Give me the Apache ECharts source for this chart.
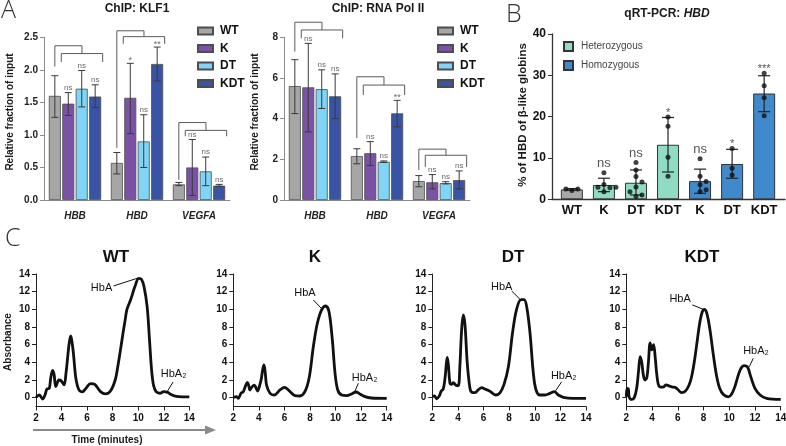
<!DOCTYPE html>
<html><head><meta charset="utf-8">
<script src="https://cdn.jsdelivr.net/npm/echarts@6/dist/echarts.min.js"></script>
<style>html,body{margin:0;padding:0;background:#fff}#c{width:786px;height:446px}</style>
</head><body><div id="c"></div>
<script>
const FONT = '"Liberation Sans", Arial, sans-serif';

// ---------- Panel A data ----------
const geneCats = ['HBB', 'HBD', 'VEGFA'];
const genotypes = ['WT', 'K', 'DT', 'KDT'];

const klf1WT  = [1.60, 0.57, 0.24];
const klf1K   = [1.48, 1.57, 0.50];
const klf1DT  = [1.71, 0.90, 0.44];
const klf1KDT = [1.59, 2.09, 0.22];
const klf1ErrWT  = [[1.27, 1.91], [0.40, 0.73], [0.22, 0.27]];
const klf1ErrK   = [[1.30, 1.65], [1.02, 2.10], [0.07, 0.93]];
const klf1ErrDT  = [[1.43, 1.99], [0.50, 1.31], [0.22, 0.66]];
const klf1ErrKDT = [[1.42, 1.77], [1.83, 2.35], [0.21, 0.24]];
const klf1SigK   = ['ns', '*', 'ns'];
const klf1SigDT  = ['ns', 'ns', 'ns'];
const klf1SigKDT = ['ns', '**', 'ns'];
// [top, second level, WT end, group ends]
const klf1Brackets = [[2.37, 2.25, 2.05, 2.12], [2.60, 2.51, 0.80, 2.40], [1.19, 1.07, 0.31, 0.98]];

const pol2WT  = [5.60, 2.16, 0.93];
const pol2K   = [5.54, 2.30, 0.87];
const pol2DT  = [5.45, 1.88, 0.83];
const pol2KDT = [5.10, 4.26, 0.98];
const pol2ErrWT  = [[4.25, 6.90], [1.78, 2.52], [0.65, 1.20]];
const pol2ErrK   = [[3.35, 7.70], [1.70, 2.87], [0.55, 1.25]];
const pol2ErrDT  = [[4.50, 6.40], [1.85, 1.92], [0.79, 0.90]];
const pol2ErrKDT = [[4.00, 6.20], [3.60, 4.90], [0.55, 1.43]];
const pol2SigK   = ['ns', 'ns', 'ns'];
const pol2SigDT  = ['ns', 'ns', 'ns'];
const pol2SigKDT = ['ns', '**', 'ns'];
const pol2Brackets = [[8.74, 8.36, 7.30, 7.95], [6.06, 5.65, 3.05, 5.16], [2.50, 2.20, 1.47, 1.62]];

// ---------- Panel B data ----------
const qCats = ['WT', 'K', 'DT', 'KDT', 'K', 'DT', 'KDT'];
const qWT  = [2.4];
const qHet = [3.47, 4.0, 13.2];
const qHom = [4.4, 8.55, 25.6];
const qErr = [[2.2, 2.6], [1.85, 5.1], [1.05, 7.1], [6.6, 19.8], [1.45, 7.3], [5.1, 12.1], [21.2, 29.9]];
const qSig = ['', 'ns', 'ns', '*', 'ns', '*', '***'];
const qDots = [
  [2.1, 2.5, 2.5],
  [3.6, 2.9, 6.45, 1.8, 2.9, 2.8],
  [8.9, 7.1, 5.5, 4.2, 3.0, 1.85, 1.05, 0.65],
  [19.9, 17.7, 10.2, 5.6],
  [9.8, 5.6, 4.3, 3.5, 2.3, 1.8],
  [12.3, 7.5, 5.9],
  [30.5, 27.5, 24.6, 20.2]
];

// ---------- Panel C data (time, absorbance) ----------
const wtTrace = [[2.0,0.05],[2.26,0.3],[2.52,-0.15],[2.7,0.3],[2.86,0.98],[3.04,1.06],[3.15,2.2],[3.3,3.1],[3.42,2.6],[3.55,1.25],[3.8,2.0],[3.97,1.9],[4.2,1.45],[4.35,2.8],[4.46,4.3],[4.6,6.2],[4.72,7.0],[4.82,6.3],[4.93,5.0],[5.1,2.4],[5.25,1.3],[5.4,0.8],[5.63,0.65],[5.9,1.05],[6.28,1.6],[6.6,1.5],[7.05,0.68],[7.44,0.42],[7.83,0.75],[8.2,2.0],[8.4,3.5],[8.6,5.3],[8.8,7.2],[9.0,9.0],[9.12,10.0],[9.4,11.05],[9.75,12.6],[10.05,13.5],[10.25,13.4],[10.45,12.6],[10.7,10.3],[10.9,6.2],[11.05,3.1],[11.2,1.4],[11.4,0.68],[11.7,0.5],[12.0,0.68],[12.3,0.6],[12.6,0.34],[13.0,0.15],[14.0,0.08]];
const kTrace = [[2.0,0.04],[2.26,0.12],[2.4,-0.07],[2.6,0.5],[2.78,0.68],[2.95,1.3],[3.1,1.74],[3.2,1.4],[3.3,0.87],[3.45,1.2],[3.64,1.43],[3.78,1.1],[3.9,0.75],[4.1,1.6],[4.2,2.2],[4.3,3.2],[4.4,3.7],[4.5,2.8],[4.6,1.43],[4.87,0.5],[5.2,0.3],[5.65,0.87],[6.0,1.17],[6.36,0.8],[6.83,0.23],[7.2,0.19],[7.6,0.68],[7.95,2.38],[8.26,5.77],[8.57,8.4],[8.9,9.92],[9.22,10.38],[9.49,9.7],[9.75,6.5],[9.96,2.75],[10.17,0.87],[10.48,0.3],[10.87,0.23],[11.26,0.42],[11.6,0.64],[11.9,0.42],[12.3,0.11],[12.8,-0.04],[14.0,-0.08]];
const dtTrace = [[2.0,0.15],[2.16,0.2],[2.34,-0.12],[2.55,0.2],[2.7,0.75],[2.86,1.0],[3.0,2.3],[3.1,3.9],[3.17,4.57],[3.25,3.8],[3.38,1.6],[3.5,1.5],[3.64,1.7],[3.85,1.4],[4.03,1.36],[4.15,3.5],[4.29,7.66],[4.42,9.36],[4.55,8.3],[4.73,3.9],[4.94,1.06],[5.1,0.6],[5.33,0.57],[5.6,0.9],[5.85,1.13],[6.1,0.98],[6.5,0.72],[6.95,0.3],[7.28,0.55],[7.6,1.5],[7.94,3.5],[8.27,7.4],[8.58,10.0],[8.93,11.1],[9.16,11.1],[9.37,10.3],[9.63,7.3],[9.89,2.75],[10.1,0.87],[10.4,0.3],[10.8,0.3],[11.19,0.49],[11.53,0.68],[11.84,0.3],[12.23,0.04],[13.0,-0.08],[14.0,-0.08]];
const kdtTrace = [[2.0,0.1],[2.06,1.06],[2.16,1.0],[2.22,0.1],[2.42,-0.2],[2.62,0.0],[2.81,1.1],[2.95,3.0],[3.08,4.64],[3.2,4.0],[3.33,2.5],[3.45,2.0],[3.6,2.3],[3.72,4.0],[3.85,6.2],[3.98,5.4],[4.12,6.0],[4.25,4.5],[4.38,2.5],[4.55,1.3],[4.85,1.2],[5.1,1.44],[5.35,1.3],[5.6,1.2],[5.8,1.17],[6.04,0.87],[6.3,0.57],[6.6,0.75],[6.87,1.4],[7.08,2.4],[7.3,4.2],[7.5,6.3],[7.7,8.4],[7.9,9.7],[8.06,10.0],[8.25,9.6],[8.5,7.7],[8.75,5.0],[9.0,2.6],[9.25,1.1],[9.55,0.35],[9.93,0.1],[10.19,0.42],[10.45,1.3],[10.65,2.3],[10.84,3.1],[11.0,3.5],[11.15,3.62],[11.41,3.5],[11.67,2.38],[12.0,1.06],[12.4,0.3],[12.9,-0.08],[14.0,-0.19]];
const peakNames = ['HbA', 'HbA\u2082'];
// annotation placement: [labelT, labelA, fromT, fromA, toT, toA]
const wtAnno  = [[7.13, 12.42, 8.07, 12.65, 10.0, 13.55], [12.77, 2.68, 12.73, 1.78, 12.3, 0.76]];
const kAnno   = [[7.6, 11.9, 8.26, 11.06, 8.96, 10.0], [12.27, 2.2, 11.78, 1.63, 11.5, 0.68]];
const dtAnno  = [[7.42, 12.57, 8.2, 12.08, 8.9, 11.06], [12.26, 2.46, 12.1, 1.8, 11.63, 0.8]];
const kdtAnno = [[6.18, 11.2, 7.13, 10.5, 7.99, 10.0], [12.08, 5.3, 11.87, 4.46, 11.56, 3.5]];

// ---------- styling ----------
const aColors = ['#a6a6a6', '#7a53a6', '#80d4f6', '#3954a5'];
const BW = 12, AW = BW * 1.12;
const aAxisColor = '#8c8c8c';

function fnt(size, weight, style) { return (style || 'normal') + ' ' + (weight || 'normal') + ' ' + size + 'px ' + FONT; }

function aXAxis(i) {
  return { gridIndex: i, type: 'category', data: geneCats,
    axisLine: { onZero: false, lineStyle: { color: aAxisColor, width: 1 } },
    axisTick: { alignWithLabel: true, length: 4, lineStyle: { color: aAxisColor } },
    axisLabel: { fontFamily: FONT, fontWeight: 'bold', fontStyle: 'italic', fontSize: 10, color: '#222', margin: 11 } };
}
function aYAxis(i, max, interval, dec) {
  return { gridIndex: i, type: 'value', min: 0, max: max, interval: interval,
    axisLine: { show: true, onZero: false, lineStyle: { color: aAxisColor, width: 1 } },
    axisTick: { show: true, length: 4, lineStyle: { color: aAxisColor } },
    splitLine: { show: false },
    axisLabel: { formatter: v => v.toFixed(dec), fontFamily: FONT, fontWeight: 'bold', fontSize: 10, color: '#222', margin: 6 } };
}
function aBars(ax, arrays) {
  return genotypes.map((g, k) => ({ type: 'bar', name: g, xAxisIndex: ax, yAxisIndex: ax, data: arrays[k],
    barWidth: BW, barGap: '12%', silent: true,
    itemStyle: { color: aColors[k], borderColor: '#4d4d4d', borderWidth: 0.8 } }));
}
function aErr(ax, errs, sigs) {
  const data = [], texts = [];
  errs.forEach((arr, g) => arr.forEach((e, c) => { data.push([c, g, e[0], e[1]]); texts.push(g === 0 ? '' : sigs[g - 1][c]); }));
  return { type: 'custom', xAxisIndex: ax, yAxisIndex: ax, data: data, z: 4, silent: true, clip: false,
    renderItem: (p, api) => {
      const c = api.value(0), g = api.value(1);
      const lo = api.coord([c, api.value(2)]), hi = api.coord([c, api.value(3)]);
      const x = lo[0] + (g - 1.5) * AW;
      const st = { stroke: '#3a3a3a', lineWidth: 1 };
      const ch = [
        { type: 'line', shape: { x1: x, y1: lo[1], x2: x, y2: hi[1] }, style: st },
        { type: 'line', shape: { x1: x - 3.5, y1: lo[1], x2: x + 3.5, y2: lo[1] }, style: st },
        { type: 'line', shape: { x1: x - 3.5, y1: hi[1], x2: x + 3.5, y2: hi[1] }, style: st }];
      const t = texts[p.dataIndex];
      if (t) ch.push({ type: 'text', x: x, y: hi[1] + (t.indexOf('*') >= 0 ? 2 : -1),
        style: { text: t, font: fnt(t.indexOf('*') >= 0 ? 9 : 8), fill: '#6a6a6a', align: 'center', verticalAlign: 'bottom' } });
      return { type: 'group', children: ch };
    } };
}
function aBrackets(ax, br) {
  return { type: 'custom', xAxisIndex: ax, yAxisIndex: ax, data: br.map((b, c) => [c, b[0], b[1], b[2], b[3]]),
    clip: false, silent: true, z: 4,
    renderItem: (p, api) => {
      const c = api.value(0);
      const top = api.coord([c, api.value(1)])[1], mid = api.coord([c, api.value(2)])[1];
      const le = api.coord([c, api.value(3)])[1], re = api.coord([c, api.value(4)])[1];
      const cx = api.coord([c, 0])[0];
      const xW = cx - 1.5 * AW, xL = cx - 0.5 * AW - 7, xR = cx + 1.5 * AW + 7.5, xM = (xL + xR) / 2;
      const st = { stroke: '#5a5a5a', lineWidth: 1, fill: null };
      return { type: 'group', children: [
        { type: 'polyline', shape: { points: [[xW, le], [xW, top], [xM, top], [xM, mid]] }, style: st },
        { type: 'polyline', shape: { points: [[xL, re], [xL, mid], [xR, mid], [xR, re]] }, style: st }] };
    } };
}

// beeswarm offsets (deterministic) for the dots of panel B
function swarm(vals, pxPerX, pxPerY) {
  const placed = [], out = [];
  const order = vals.map((v, i) => i).sort((a, b) => vals[a] - vals[b]);
  order.forEach(i => {
    const y = vals[i] * pxPerY;
    const cands = [0, 6, -6, 12, -12, 18, -18];
    let off = 0;
    for (const cnd of cands) {
      if (placed.every(q => Math.hypot(q[0] - cnd, q[1] - y) >= 6)) { off = cnd; break; }
    }
    placed.push([off, y]);
    out[i] = off / pxPerX;
  });
  return out;
}
const dotData = [];
qDots.forEach((vals, i) => { const offs = swarm(vals, 32, 4.13); vals.forEach((v, k) => dotData.push([i + offs[k], v])); });

function cXAxis(i) {
  return { gridIndex: i, type: 'value', min: 2, max: 14, interval: 2,
    axisLine: { onZero: false, lineStyle: { color: '#222', width: 1 } },
    axisTick: { length: 4, lineStyle: { color: '#222' } }, splitLine: { show: false },
    axisLabel: { fontFamily: FONT, fontWeight: 'bold', fontSize: 10, color: '#111', margin: 7 } };
}
const cTicks = [0, 2, 4, 6, 8, 10, 12, 14];
function cYAxis(i) {
  return { gridIndex: i, type: 'value', min: -1, max: 14,
    axisLine: { show: true, onZero: false, lineStyle: { color: '#222', width: 1 } },
    axisTick: { show: true, length: 4, customValues: cTicks, lineStyle: { color: '#222' } }, splitLine: { show: false },
    axisLabel: { customValues: cTicks, fontFamily: FONT, fontWeight: 'bold', fontSize: 10, color: '#111', margin: 6 } };
}
function cLine(ax, tr) {
  return { type: 'line', xAxisIndex: ax, yAxisIndex: ax, data: tr, showSymbol: false, smooth: 0.35, silent: true,
    lineStyle: { color: '#111', width: 2.8 } };
}
function cAnno(ax, anns) {
  return { type: 'custom', xAxisIndex: ax, yAxisIndex: ax, data: anns, clip: false, silent: true, z: 5,
    renderItem: (p, api) => {
      const L = api.coord([api.value(0), api.value(1)]), S = api.coord([api.value(2), api.value(3)]), E = api.coord([api.value(4), api.value(5)]);
      return { type: 'group', children: [
        { type: 'line', shape: { x1: S[0], y1: S[1], x2: E[0], y2: E[1] }, style: { stroke: '#111', lineWidth: 1 } },
        { type: 'text', x: L[0], y: L[1], style: { text: peakNames[p.dataIndex], font: fnt(11), fill: '#111', align: 'center', verticalAlign: 'middle' } }] };
    } };
}

const gridBase = { outerBoundsMode: 'none', containLabel: false };
const legendText = { fontFamily: FONT, fontWeight: 'bold', fontSize: 12, color: '#111', lineHeight: 12, padding: [0, 0, 0, 2] };
const option = {
  animation: false,
  grid: [
    Object.assign({ left: 44, top: 37.3, width: 186, height: 162.7 }, gridBase),
    Object.assign({ left: 284, top: 37.3, width: 186, height: 162.7 }, gridBase),
    Object.assign({ left: 552, top: 34, width: 233, height: 165.3 }, gridBase),
    Object.assign({ left: 36, top: 274, width: 153.3, height: 132.5 }, gridBase),
    Object.assign({ left: 233.3, top: 274, width: 153.4, height: 132.5 }, gridBase),
    Object.assign({ left: 432.3, top: 274, width: 153.7, height: 132.5 }, gridBase),
    Object.assign({ left: 626.3, top: 274, width: 154.4, height: 132.5 }, gridBase)
  ],
  xAxis: [aXAxis(0), aXAxis(1),
    { gridIndex: 2, type: 'value', min: -0.62, max: 6.65,
      axisLine: { onZero: false, lineStyle: { color: '#333', width: 1.3 } }, axisTick: { show: false }, splitLine: { show: false },
      axisLabel: { customValues: [0, 1, 2, 3, 4, 5, 6], formatter: v => qCats[Math.round(v)], fontFamily: FONT, fontWeight: 'bold', fontSize: 13, color: '#111', margin: 5 } },
    cXAxis(3), cXAxis(4), cXAxis(5), cXAxis(6)],
  yAxis: [aYAxis(0, 2.5, 0.5, 1), aYAxis(1, 8, 2, 0),
    { gridIndex: 2, type: 'value', min: 0, max: 40, interval: 10,
      axisLine: { show: true, onZero: false, lineStyle: { color: '#333', width: 1.3 } },
      axisTick: { show: true, length: 4, lineStyle: { color: '#333' } }, splitLine: { show: false },
      axisLabel: { fontFamily: FONT, fontWeight: 'bold', fontSize: 12, color: '#111', margin: 6 } },
    cYAxis(3), cYAxis(4), cYAxis(5), cYAxis(6)],
  legend: [
    { data: genotypes, orient: 'vertical', left: 197, top: 25, itemWidth: 15, itemHeight: 7, itemGap: 5.5, padding: 0, icon: 'rect', selectedMode: false, textStyle: legendText },
    { data: genotypes, orient: 'vertical', left: 437, top: 25, itemWidth: 15, itemHeight: 7, itemGap: 5.5, padding: 0, icon: 'rect', selectedMode: false, textStyle: legendText },
    { data: ['Heterozygous', 'Homozygous'], orient: 'vertical', left: 563, top: 41, itemWidth: 9, itemHeight: 9, itemGap: 8, padding: 0, icon: 'rect', selectedMode: false,
      textStyle: { fontFamily: FONT, fontSize: 10, color: '#444', padding: [0, 0, 0, 3] } }
  ],
  series: [
    ...aBars(0, [klf1WT, klf1K, klf1DT, klf1KDT]),
    aErr(0, [klf1ErrWT, klf1ErrK, klf1ErrDT, klf1ErrKDT], [klf1SigK, klf1SigDT, klf1SigKDT]),
    aBrackets(0, klf1Brackets),
    ...aBars(1, [pol2WT, pol2K, pol2DT, pol2KDT]),
    aErr(1, [pol2ErrWT, pol2ErrK, pol2ErrDT, pol2ErrKDT], [pol2SigK, pol2SigDT, pol2SigKDT]),
    aBrackets(1, pol2Brackets),
    { type: 'bar', name: 'Wild type', xAxisIndex: 2, yAxisIndex: 2, barWidth: 22, barGap: '-100%', silent: true,
      data: qWT.map((v, i) => [i, v]), itemStyle: { color: '#a8a8a8', borderColor: '#333', borderWidth: 1 } },
    { type: 'bar', name: 'Heterozygous', xAxisIndex: 2, yAxisIndex: 2, barWidth: 22, barGap: '-100%', silent: true,
      data: qHet.map((v, i) => [i + 1, v]), itemStyle: { color: '#8fdbc3', borderColor: '#333', borderWidth: 1 } },
    { type: 'bar', name: 'Homozygous', xAxisIndex: 2, yAxisIndex: 2, barWidth: 22, barGap: '-100%', silent: true,
      data: qHom.map((v, i) => [i + 4, v]), itemStyle: { color: '#4189cd', borderColor: '#333', borderWidth: 1 } },
    { type: 'custom', xAxisIndex: 2, yAxisIndex: 2, data: qErr.map((e, i) => [i, e[0], e[1]]), z: 4, silent: true,
      renderItem: (p, api) => {
        const a = api.coord([api.value(0), api.value(1)]), b = api.coord([api.value(0), api.value(2)]);
        const st = { stroke: '#222', lineWidth: 1.2 };
        return { type: 'group', children: [
          { type: 'line', shape: { x1: a[0], y1: a[1], x2: b[0], y2: b[1] }, style: st },
          { type: 'line', shape: { x1: a[0] - 6, y1: a[1], x2: a[0] + 6, y2: a[1] }, style: st },
          { type: 'line', shape: { x1: b[0] - 6, y1: b[1], x2: b[0] + 6, y2: b[1] }, style: st }] };
      } },
    { type: 'scatter', xAxisIndex: 2, yAxisIndex: 2, data: dotData, symbolSize: 5, silent: true, z: 5,
      itemStyle: { color: '#111' } },
    { type: 'custom', xAxisIndex: 2, yAxisIndex: 2, clip: false, silent: true, z: 5,
      data: qErr.map((e, i) => [i, Math.max(e[1], ...qDots[i])]),
      renderItem: (p, api) => {
        const t = qSig[p.dataIndex];
        if (!t) return null;
        const pt = api.coord([api.value(0), api.value(1)]);
        const star = t.indexOf('*') >= 0;
        return { type: 'text', x: pt[0], y: pt[1] + (star ? 1 : -3),
          style: { text: t, font: fnt(star ? 11 : 13), fill: '#555', align: 'center', verticalAlign: 'bottom' } };
      } },
    cLine(3, wtTrace), cAnno(3, wtAnno),
    cLine(4, kTrace), cAnno(4, kAnno),
    cLine(5, dtTrace), cAnno(5, dtAnno),
    cLine(6, kdtTrace), cAnno(6, kdtAnno)
  ],
  graphic: [
    { type: 'text', x: 1, y: -2, style: { text: 'A', font: '300 25px "Open Sans", sans-serif', fill: '#333' } },
    { type: 'text', x: 506, y: 2, style: { text: 'B', font: '300 25px "Open Sans", sans-serif', fill: '#333' } },
    { type: 'text', x: 5, y: 226, style: { text: 'C', font: '300 25px "Open Sans", sans-serif', fill: '#333' } },
    { type: 'text', x: 137, y: 9, style: { text: 'ChIP: KLF1', font: fnt(12, 'bold'), fill: '#1a1a1a', align: 'center', verticalAlign: 'middle' } },
    { type: 'text', x: 378, y: 9, style: { text: 'ChIP: RNA Pol II', font: fnt(12, 'bold'), fill: '#1a1a1a', align: 'center', verticalAlign: 'middle' } },
    { type: 'text', x: 667, y: 14, style: { text: '{a|qRT-PCR: }{b|HBD}', align: 'center', verticalAlign: 'middle',
        rich: { a: { font: fnt(12, 'bold'), fill: '#1a1a1a' }, b: { font: fnt(12, 'bold', 'italic'), fill: '#1a1a1a' } } } },
    { type: 'text', x: 10, y: 112, rotation: Math.PI / 2, style: { text: 'Relative fraction of input', font: fnt(10, 'bold'), fill: '#1a1a1a', align: 'center', verticalAlign: 'middle' } },
    { type: 'text', x: 255, y: 112, rotation: Math.PI / 2, style: { text: 'Relative fraction of input', font: fnt(10, 'bold'), fill: '#1a1a1a', align: 'center', verticalAlign: 'middle' } },
    { type: 'text', x: 523, y: 115, rotation: Math.PI / 2, style: { text: '% of HBD of \u03b2-like globins', font: fnt(11.5, 'bold'), fill: '#1a1a1a', align: 'center', verticalAlign: 'middle' } },
    { type: 'text', x: 8, y: 342, rotation: Math.PI / 2, style: { text: 'Absorbance', font: fnt(10, 'bold'), fill: '#1a1a1a', align: 'center', verticalAlign: 'middle' } },
    { type: 'text', x: 116, y: 257, style: { text: 'WT', font: fnt(17, 'bold'), fill: '#111', align: 'center', verticalAlign: 'middle' } },
    { type: 'text', x: 315, y: 257, style: { text: 'K', font: fnt(17, 'bold'), fill: '#111', align: 'center', verticalAlign: 'middle' } },
    { type: 'text', x: 513, y: 257, style: { text: 'DT', font: fnt(17, 'bold'), fill: '#111', align: 'center', verticalAlign: 'middle' } },
    { type: 'text', x: 702, y: 257, style: { text: 'KDT', font: fnt(17, 'bold'), fill: '#111', align: 'center', verticalAlign: 'middle' } },
    { type: 'line', shape: { x1: 33, y1: 430, x2: 210, y2: 430 }, style: { stroke: '#8a8a8a', lineWidth: 2 } },
    { type: 'polygon', shape: { points: [[205, 425.5], [216, 430], [205, 434.5]] }, style: { fill: '#8a8a8a' } },
    { type: 'text', x: 107, y: 440, style: { text: 'Time (minutes)', font: fnt(10, 'bold'), fill: '#1a1a1a', align: 'center', verticalAlign: 'middle' } }
  ]
};
const chart = echarts.init(document.getElementById('c'), null, { renderer: 'canvas', width: 786, height: 446 });
chart.setOption(option);
</script></body></html>
